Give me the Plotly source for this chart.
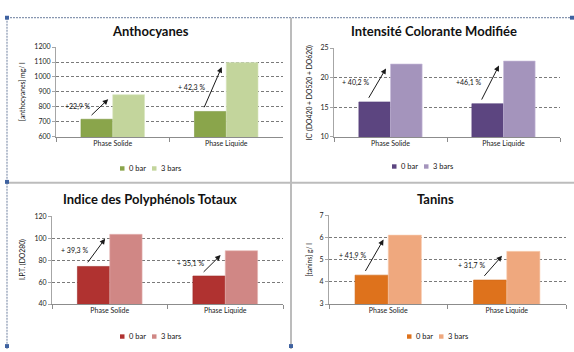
import plotly.graph_objects as go

W, H = 574, 352

categories = ["Phase Solide", "Phase Liquide"]
series_names = ["0 bar", "3 bars"]

antho_0bar = [718, 770]
antho_3bars = [882, 1096]
antho_gain = ["+22,9 %", "+ 42,3 %"]

ic_0bar = [15.9, 15.6]
ic_3bars = [22.3, 22.8]
ic_gain = ["+ 40,2 %", "+46,1 %"]

ipt_0bar = [74.2, 65.5]
ipt_3bars = [103.4, 88.5]
ipt_gain = ["+ 39,3 %", "+ 35,1 %"]

tanins_0bar = [4.3, 4.08]
tanins_3bars = [6.1, 5.37]
tanins_gain = ["+ 41,9 %", "+ 31,7 %"]

FONT = "Lato"


def px_x(x):
    return x / W


def px_y(y):
    return 1 - y / H


panels = [
    dict(title="Anthocyanes", ytitle="[anthocyanes] mg/ l",
         v0=antho_0bar, v3=antho_3bars, gain=antho_gain,
         yrange=[600, 1200], dtick=100,
         colors=["#8aa54b", "#c3d59c"], lines=["#7f9a44", "#d9e5c0"],
         box=(56, 283, 43, 135), title_xy=(150, 27), ytitle_x=22, legend_xy=(150, 167)),
    dict(title="Intensité Colorante Modifiée", ytitle="IC' (DO420 + DO520 + DO620)",
         v0=ic_0bar, v3=ic_3bars, gain=ic_gain,
         yrange=[10, 25], dtick=5,
         colors=["#5c4580", "#a494bc"], lines=["#54407a", "#c9bedb"],
         box=(334, 560, 44, 135), title_xy=(434, 27), ytitle_x=309, legend_xy=(422, 165)),
    dict(title="Indice des Polyphénols Totaux", ytitle="I.P.T. (DO280)",
         v0=ipt_0bar, v3=ipt_3bars, gain=ipt_gain,
         yrange=[40, 120], dtick=20,
         colors=["#b03230", "#d08785"], lines=["#a02c2a", "#e6b5b4"],
         box=(52, 283, 216, 306), title_xy=(150, 198), ytitle_x=22, legend_xy=(150, 339)),
    dict(title="Tanins", ytitle="[tanins] g/ l",
         v0=tanins_0bar, v3=tanins_3bars, gain=tanins_gain,
         yrange=[3, 7], dtick=1,
         colors=["#de721c", "#efa87e"], lines=["#d06a18", "#f9cfb2"],
         box=(329, 566, 215, 306), title_xy=(435, 199), ytitle_x=309, legend_xy=(437, 339)),
]

fig = go.Figure()
annotations = []
shapes = []
layout_axes = {}

for k, p in enumerate(panels, start=1):
    xa = "x" if k == 1 else f"x{k}"
    ya = "y" if k == 1 else f"y{k}"
    x0, x1, y0, y1 = p["box"]

    for name, vals, col, lc in zip(series_names, [p["v0"], p["v3"]], p["colors"], p["lines"]):
        fig.add_trace(go.Bar(
            x=categories, y=vals, name=name, xaxis=xa, yaxis=ya,
            marker=dict(color=col, line=dict(color=lc, width=0.6)),
            showlegend=False, hoverinfo="x+y+name",
        ))

    span = p["yrange"][1] - p["yrange"][0]
    layout_axes["xaxis" if k == 1 else f"xaxis{k}"] = dict(
        domain=[px_x(x0), px_x(x1)], anchor=ya, type="category",
        showline=True, linecolor="#8c8c8c", linewidth=1,
        ticks="outside", tickson="boundaries", ticklen=4, tickcolor="#8c8c8c",
        tickfont=dict(family=FONT, size=7, color="#222"), showgrid=False,
        fixedrange=True,
    )
    layout_axes["yaxis" if k == 1 else f"yaxis{k}"] = dict(
        domain=[px_y(y1), px_y(y0)], anchor=xa, range=p["yrange"], dtick=p["dtick"],
        showline=True, linecolor="#a6a6a6", linewidth=1,
        ticks="outside", ticklen=3, tickcolor="#a6a6a6",
        tickfont=dict(family=FONT, size=7, color="#222"),
        showgrid=True, gridcolor="#7a7a7a", gridwidth=1, griddash="3px,2px",
        zeroline=False, fixedrange=True,
    )

    # chart title
    annotations.append(dict(
        x=px_x(p["title_xy"][0]), y=px_y(p["title_xy"][1]), xref="paper", yref="paper",
        text=f"<b>{p['title']}</b>", showarrow=False, xanchor="center", yanchor="middle",
        font=dict(family=FONT, size=13, color="#111"),
    ))
    # y-axis title
    annotations.append(dict(
        x=px_x(p["ytitle_x"]), y=px_y((y0 + y1) / 2), xref="paper", yref="paper",
        text=p["ytitle"], showarrow=False, textangle=-90, xanchor="center", yanchor="middle",
        font=dict(family=FONT, size=6.8, color="#111"),
    ))

    # increase arrows and percentage labels
    for i, (a, b, g) in enumerate(zip(p["v0"], p["v3"], p["gain"])):
        annotations.append(dict(
            x=i - 0.04, y=b - 0.05 * span, ax=i - 0.2, ay=a + 0.03 * span,
            xref=xa, yref=ya, axref=xa, ayref=ya, text="", showarrow=True,
            arrowhead=2, arrowsize=1.1, arrowwidth=1, arrowcolor="#1a1a1a",
        ))
        annotations.append(dict(
            x=i - 0.17, y=(a + b) / 2, xref=xa, yref=ya, text=g, showarrow=False,
            xanchor="right", yanchor="middle",
            font=dict(family=FONT, size=7, color="#111"),
        ))

    # legend
    lx, ly = p["legend_xy"]
    items_w = [4 + 2 + 18, 4 + 2 + 22]
    start = lx - (items_w[0] + 8 + items_w[1]) / 2
    cur = start
    for name, col, w in zip(series_names, p["colors"], items_w):
        shapes.append(dict(
            type="rect", xref="paper", yref="paper",
            x0=px_x(cur), x1=px_x(cur + 4.5), y0=px_y(ly + 2.5), y1=px_y(ly - 2),
            fillcolor=col, line=dict(width=0),
        ))
        annotations.append(dict(
            x=px_x(cur + 6.5), y=px_y(ly), xref="paper", yref="paper", text=name,
            showarrow=False, xanchor="left", yanchor="middle",
            font=dict(family=FONT, size=7.5, color="#111"),
        ))
        cur += w + 8

# page frame: selection border and table rules
frame = "#8796b0"
shapes += [
    dict(type="line", xref="paper", yref="paper", x0=px_x(7), x1=px_x(573), y0=px_y(13), y1=px_y(13),
         line=dict(color=frame, width=1.2, dash="2px,1px")),
    dict(type="line", xref="paper", yref="paper", x0=px_x(7), x1=px_x(7), y0=px_y(13), y1=px_y(352),
         line=dict(color=frame, width=1.2, dash="2px,1px")),
    dict(type="line", xref="paper", yref="paper", x0=px_x(291), x1=px_x(291), y0=px_y(13), y1=px_y(352),
         line=dict(color="#bcbcbc", width=2)),
    dict(type="line", xref="paper", yref="paper", x0=px_x(7), x1=px_x(574), y0=px_y(182), y1=px_y(182),
         line=dict(color="#bcbcbc", width=2)),
]
for cx, cy in [(7, 13), (572, 13), (7, 181), (7, 349), (291, 349)]:
    shapes.append(dict(type="rect", xref="paper", yref="paper",
                       x0=px_x(cx - 2), x1=px_x(cx + 2), y0=px_y(cy + 2), y1=px_y(cy - 2),
                       fillcolor="#3f62a0", line=dict(width=0)))

fig.update_layout(
    width=W, height=H, margin=dict(l=0, r=0, t=0, b=0),
    paper_bgcolor="white", plot_bgcolor="white",
    barmode="group", bargap=0.44, bargroupgap=0,
    annotations=annotations, shapes=shapes, showlegend=False,
    font=dict(family=FONT),
    **layout_axes,
)

fig.write_html("out.html")
